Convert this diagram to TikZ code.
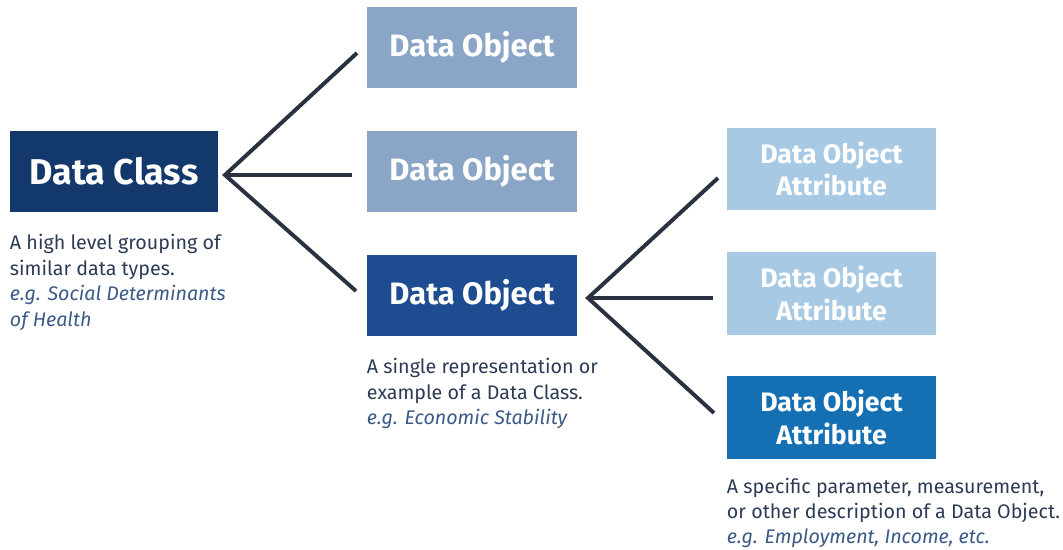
\documentclass[tikz,border=0pt]{standalone}
\usepackage{fontspec}
\setmainfont{Fira Sans}
\usetikzlibrary{positioning}
\definecolor{classblue}{HTML}{13386B}
\definecolor{objpale}{HTML}{8BA5C6}
\definecolor{objblue}{HTML}{1D4C91}
\definecolor{attrpale}{HTML}{A7C9E3}
\definecolor{attrblue}{HTML}{1470B3}
\definecolor{forkgray}{HTML}{2A3140}
\definecolor{desctext}{HTML}{2C3B55}
\definecolor{egtext}{HTML}{3B5A87}
\newcommand{\eg}[1]{\textcolor{egtext}{\itshape #1}}

\begin{document}
\begin{tikzpicture}[x=0.025cm,y=-0.025cm,node distance=0.55cm,outer sep=0pt,inner sep=0pt]
        \tikzset{box/.style={align=center,shape=rectangle,text=white,font=\bfseries}}
        \tikzset{classbox/.style={box,minimum width=5.2cm,minimum height=2.025cm,fill=classblue,font=\fontsize{25.5}{28}\bfseries}}
        \tikzset{objbox/.style={box,minimum width=5.25cm,minimum height=2.025cm,font=\fontsize{22}{25}\bfseries}}
        \tikzset{attrbox/.style={box,minimum width=5.225cm,minimum height=2.05cm,font=\fontsize{19}{23}\bfseries}}
        \tikzset{desc/.style={align=left,anchor=north west,text=desctext,font=\fontsize{14}{18.3}\selectfont}}
        \tikzset{fork/.style={draw=forkgray,line width=2.8pt,line join=miter}}

        \useasboundingbox (0,0) rectangle (1063,550);

        \node [classbox] (class) at (114,171.5) {Data Class};
        \node [objbox,fill=objpale] (obj-a) at (472,47.5) {Data Object};
        \node [objbox,fill=objpale] (obj-b) at (472,171.5) {Data Object};
        \node [objbox,fill=objblue] (obj-c) at (472,295.5) {Data Object};
        \node [attrbox,fill=attrpale] (attr-a) at (831.5,169) {Data Object\\Attribute};
        \node [attrbox,fill=attrpale] (attr-b) at (831.5,293.5) {Data Object\\Attribute};
        \node [attrbox,fill=attrblue] (attr-c) at (831.5,417.5) {Data Object\\Attribute};

        \node [desc,below=of class.south west,anchor=north west] (class-desc)
          {A high level grouping of\\similar data types.\\\eg{e.g. Social Determinants}\\\eg{of Health}};
        \node [desc,below=of obj-c.south west,anchor=north west] (obj-desc)
          {A single representation or\\example of a Data Class.\\\eg{e.g. Economic Stability}};
        \node [desc,below=0.48cm of attr-c.south west,anchor=north west,font=\fontsize{14}{18}\selectfont] (attr-desc)
          {A specific parameter, measurement,\\or other description of a Data Object.\\\eg{e.g. Employment, Income, etc.}};

        % forks
        \coordinate (fork-l) at (225,175);
        \coordinate (fork-la) at (357,53);
        \coordinate (fork-lb) at (352,175);
        \coordinate (fork-lc) at (356,291);
        \coordinate (fork-r) at (588,298);
        \coordinate (fork-ra) at (718,178);
        \coordinate (fork-rb) at (713,298);
        \coordinate (fork-rc) at (714,413);
        \draw [fork] (fork-la) -- (fork-l) -- (fork-lc);
        \draw [fork] (fork-l) -- (fork-lb);
        \draw [fork] (fork-ra) -- (fork-r) -- (fork-rc);
        \draw [fork] (fork-r) -- (fork-rb);
\end{tikzpicture}
\end{document}
